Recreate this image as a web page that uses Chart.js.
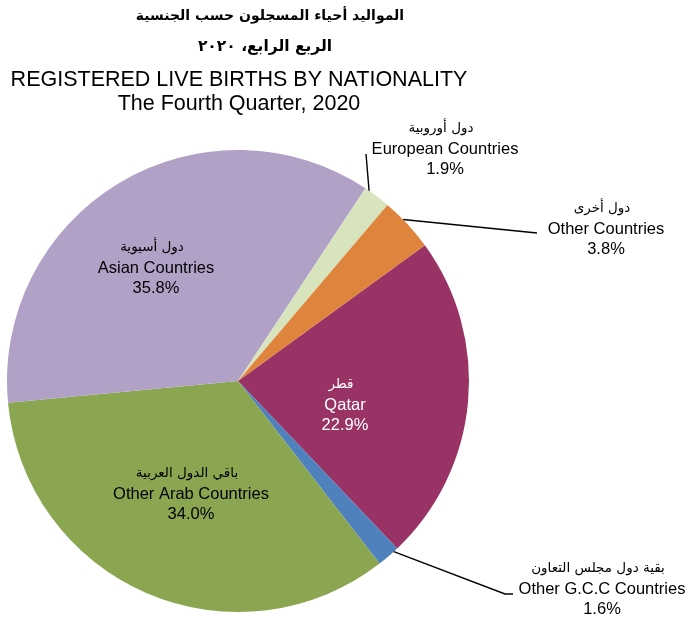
<!DOCTYPE html>
<html>
<head>
<meta charset="utf-8">
<script src="https://cdn.jsdelivr.net/npm/chart.js@4.4.0/dist/chart.umd.min.js"></script>
<style>
  html, body { margin: 0; padding: 0; background: #fff; }
  #births { display: block; }
</style>
</head>
<body>
<canvas id="births" width="689" height="618"></canvas>
<script>
// data
const nationsEn = ['Qatar', 'Other G.C.C Countries', 'Other Arab Countries', 'Asian Countries', 'European Countries', 'Other Countries'];
const nationsAr = ['قطر', 'بقية دول مجلس التعاون', 'باقي الدول العربية', 'دول أسيوية', 'دول أوروبية', 'دول أخرى'];
const sharePct = [22.9, 1.6, 34.0, 35.8, 1.9, 3.8];
const sliceColors = ['#993366', '#4F81BD', '#8BA651', '#B1A1C7', '#D7E4BD', '#DE843C'];

const titleAr1 = 'المواليد أحياء المسجلون حسب الجنسية';
const titleAr2 = 'الربع الرابع، ٢٠٢٠';
const titleEn1 = 'REGISTERED LIVE BIRTHS BY NATIONALITY';
const titleEn2 = 'The Fourth Quarter, 2020';

// where each label sits (text centre of the english line); leader = fraction across slice + end point
const labelPlace = [
  { x: 345, y: 405, color: '#fff' },
  { x: 602, y: 589, color: '#000', leader: { f: 0.2, pts: [[505, 594], [513, 594]] } },
  { x: 191, y: 494, color: '#000' },
  { x: 156, y: 268, color: '#000' },
  { x: 445, y: 149, color: '#000', leader: { f: 0.16, pts: [[366, 154]] } },
  { x: 606, y: 229, color: '#000', leader: { f: 0.39, pts: [[537, 233]] } }
];

const labelsPlugin = {
  id: 'pieLabels',
  afterDraw(chart) {
    const ctx = chart.ctx;
    ctx.save();
    ctx.textAlign = 'center';
    ctx.textBaseline = 'middle';
    ctx.fillStyle = '#000';

    // titles
    ctx.direction = 'rtl';
    ctx.font = 'bold 14px "DejaVu Sans"';
    ctx.fillText(titleAr1, 270, 16);
    ctx.font = 'bold 15.5px "DejaVu Sans"';
    ctx.fillText(titleAr2, 265, 47);
    ctx.direction = 'ltr';
    ctx.font = '21.5px "Liberation Sans", Arial';
    ctx.fillText(titleEn1, 239, 80);
    ctx.fillText(titleEn2, 239, 104);

    const arcs = chart.getDatasetMeta(0).data;
    arcs.forEach((arc, i) => {
      const p = labelPlace[i];
      if (p.leader) {
        const a = arc.startAngle + (arc.endAngle - arc.startAngle) * p.leader.f;
        ctx.beginPath();
        ctx.moveTo(arc.x + Math.cos(a) * arc.outerRadius, arc.y + Math.sin(a) * arc.outerRadius);
        p.leader.pts.forEach(pt => ctx.lineTo(pt[0], pt[1]));
        ctx.strokeStyle = '#000';
        ctx.lineWidth = 1.4;
        ctx.stroke();
      }
      ctx.fillStyle = p.color;
      ctx.direction = 'rtl';
      ctx.font = '13.5px "DejaVu Sans"';
      ctx.fillText(nationsAr[i], p.x - 4, p.y - 21);
      ctx.direction = 'ltr';
      ctx.font = '16.5px "Liberation Sans", Arial';
      ctx.fillText(nationsEn[i], p.x, p.y);
      ctx.fillText(sharePct[i].toFixed(1) + '%', p.x, p.y + 20);
    });
    ctx.restore();
  }
};

new Chart(document.getElementById('births'), {
  type: 'pie',
  data: {
    labels: nationsEn,
    datasets: [{
      data: sharePct,
      backgroundColor: sliceColors,
      borderWidth: 0
    }]
  },
  options: {
    responsive: false,
    animation: false,
    rotation: 54,
    layout: { padding: { left: 7, right: 220, top: 150, bottom: 6 } },
    plugins: {
      legend: { display: false },
      tooltip: { enabled: false }
    }
  },
  plugins: [labelsPlugin]
});
</script>
</body>
</html>
